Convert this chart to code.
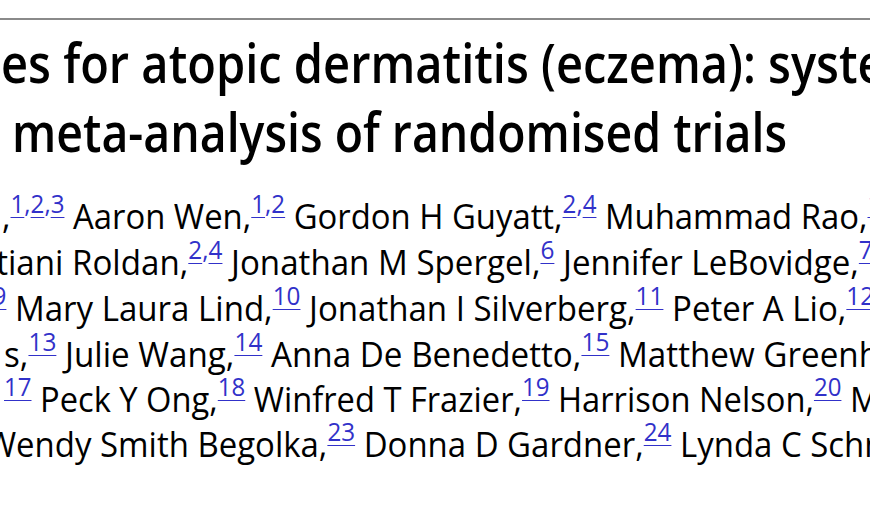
<!DOCTYPE html>
<html>
<head>
<meta charset="utf-8">
<script src="https://cdn.jsdelivr.net/npm/chart.js@4"></script>
<style>
  html, body { margin:0; padding:0; background:#fff; }
  #page { position:relative; width:870px; height:522px; overflow:hidden; background:#fff; }
  #rule { position:absolute; left:0; top:18px; width:870px; height:2px; background:#8a8a8a; }
  .line { position:absolute; left:0; top:0; white-space:nowrap; transform-origin:0 0; line-height:1; }
  .title { font-family:"Open Sans", sans-serif; font-size:55px; font-weight:600; color:#000; }
  .auth { font-family:"Open Sans", sans-serif; font-size:34px; font-weight:400; color:#000; }
  .sup { font-size:25px; vertical-align:16px; color:#3131c9; }
  .sup a { color:#3131c9; text-decoration:underline; text-decoration-thickness:1px; text-underline-offset:4px; }
  .bl { display:inline-block; width:0; height:0; vertical-align:baseline; }
</style>
</head>
<body>
<div id="page"><div id="rule"></div></div>
<script>
// Title lines (visible crop of the article header)
const titleLines = [
  "es for atopic dermatitis (eczema): systematic review and",
  "meta-analysis of randomised trials"
];
// Author lines: each entry [text before superscript, affiliation numbers]
const authorLine1 = [[",", "1,2,3"], [" Aaron Wen,", "1,2"], [" Gordon H Guyatt,", "2,4"], [" Muhammad Rao,", "1,5"]];
const authorLine2 = [["tiani Roldan,", "2,4"], [" Jonathan M Spergel,", "6"], [" Jennifer LeBovidge,", "7,8"]];
const authorLine3 = [["", "8,9"], [" Mary Laura Lind,", "10"], [" Jonathan I Silverberg,", "11"], [" Peter A Lio,", "12"]];
const authorLine4 = [["s,", "13"], [" Julie Wang,", "14"], [" Anna De Benedetto,", "15"], [" Matthew Greenhawt,", "16"]];
const authorLine5 = [["", "17"], [" Peck Y Ong,", "18"], [" Winfred T Frazier,", "19"], [" Harrison Nelson,", "20"], [" Monica", ""]];
const authorLine6 = [["Wendy Smith Begolka,", "23"], [" Donna D Gardner,", "24"], [" Lynda C Schneider,", "25"]];
const authorLines = [authorLine1, authorLine2, authorLine3, authorLine4, authorLine5, authorLine6];

// Layout targets
const titleBaselines = [83, 152];
const titleAnchors = [["es", "left", 1, "syste", "left", 768], ["meta", "left", 12, "trials", "right", 787]];
const authorBaselines = [229, 275, 321, 367, 412, 457];
const authorAnchors = [["Aaron", 73, "Muhammad", 605], ["Roldan", 72, "Jennifer", 563], ["Mary", 15, "Peter", 672],
                       ["Julie", 65, "Matthew", 618], ["Peck", 40, "Harrison", 558], ["Smith", 100, "Lynda", 680]];

const page = document.getElementById('page');
function esc(s){ return s.replace(/&/g,'&amp;').replace(/</g,'&lt;'); }
function wrapWords(text, words){
  let h = esc(text);
  words.forEach(w => { h = h.replace(w, '<span data-a="'+w+'">'+w+'</span>'); });
  return h;
}
function place(div, aWord, aSide, aX, bWord, bSide, bX, baseline){
  const r0 = div.getBoundingClientRect();
  const ea = div.querySelector('[data-a="'+aWord+'"]').getBoundingClientRect();
  const eb = div.querySelector('[data-a="'+bWord+'"]').getBoundingClientRect();
  const ma = (aSide === 'left' ? ea.left : ea.right) - r0.left;
  const mb = (bSide === 'left' ? eb.left : eb.right) - r0.left;
  const s = (bX - aX) / (mb - ma);
  const tx = aX - s * ma;
  const bl = div.querySelector('.bl').getBoundingClientRect().top - r0.top;
  div.style.top = (baseline - bl) + 'px';
  div.style.transform = 'translateX(' + tx + 'px) scaleX(' + s + ')';
}
titleLines.forEach((t, i) => {
  const d = document.createElement('div');
  d.className = 'line title';
  const an = titleAnchors[i];
  d.innerHTML = wrapWords(t, [an[0], an[3]]) + '<span class="bl"></span>';
  page.appendChild(d);
  place(d, an[0], an[1], an[2], an[3], an[4], an[5], titleBaselines[i]);
});
authorLines.forEach((line, i) => {
  const d = document.createElement('div');
  d.className = 'line auth';
  const an = authorAnchors[i];
  let h = '';
  line.forEach(([txt, sup]) => {
    h += wrapWords(txt, [an[0], an[2]].filter(w => txt.indexOf(w) >= 0));
    if (sup) {
      h += '<span class="sup">' + sup.split(',').map(n => '<a href="#">' + n + '</a>').join(',') + '</span>';
    }
  });
  d.innerHTML = h + '<span class="bl"></span>';
  page.appendChild(d);
  place(d, an[0], 'left', an[1], an[2], 'left', an[3], authorBaselines[i]);
});
</script>
</body>
</html>
